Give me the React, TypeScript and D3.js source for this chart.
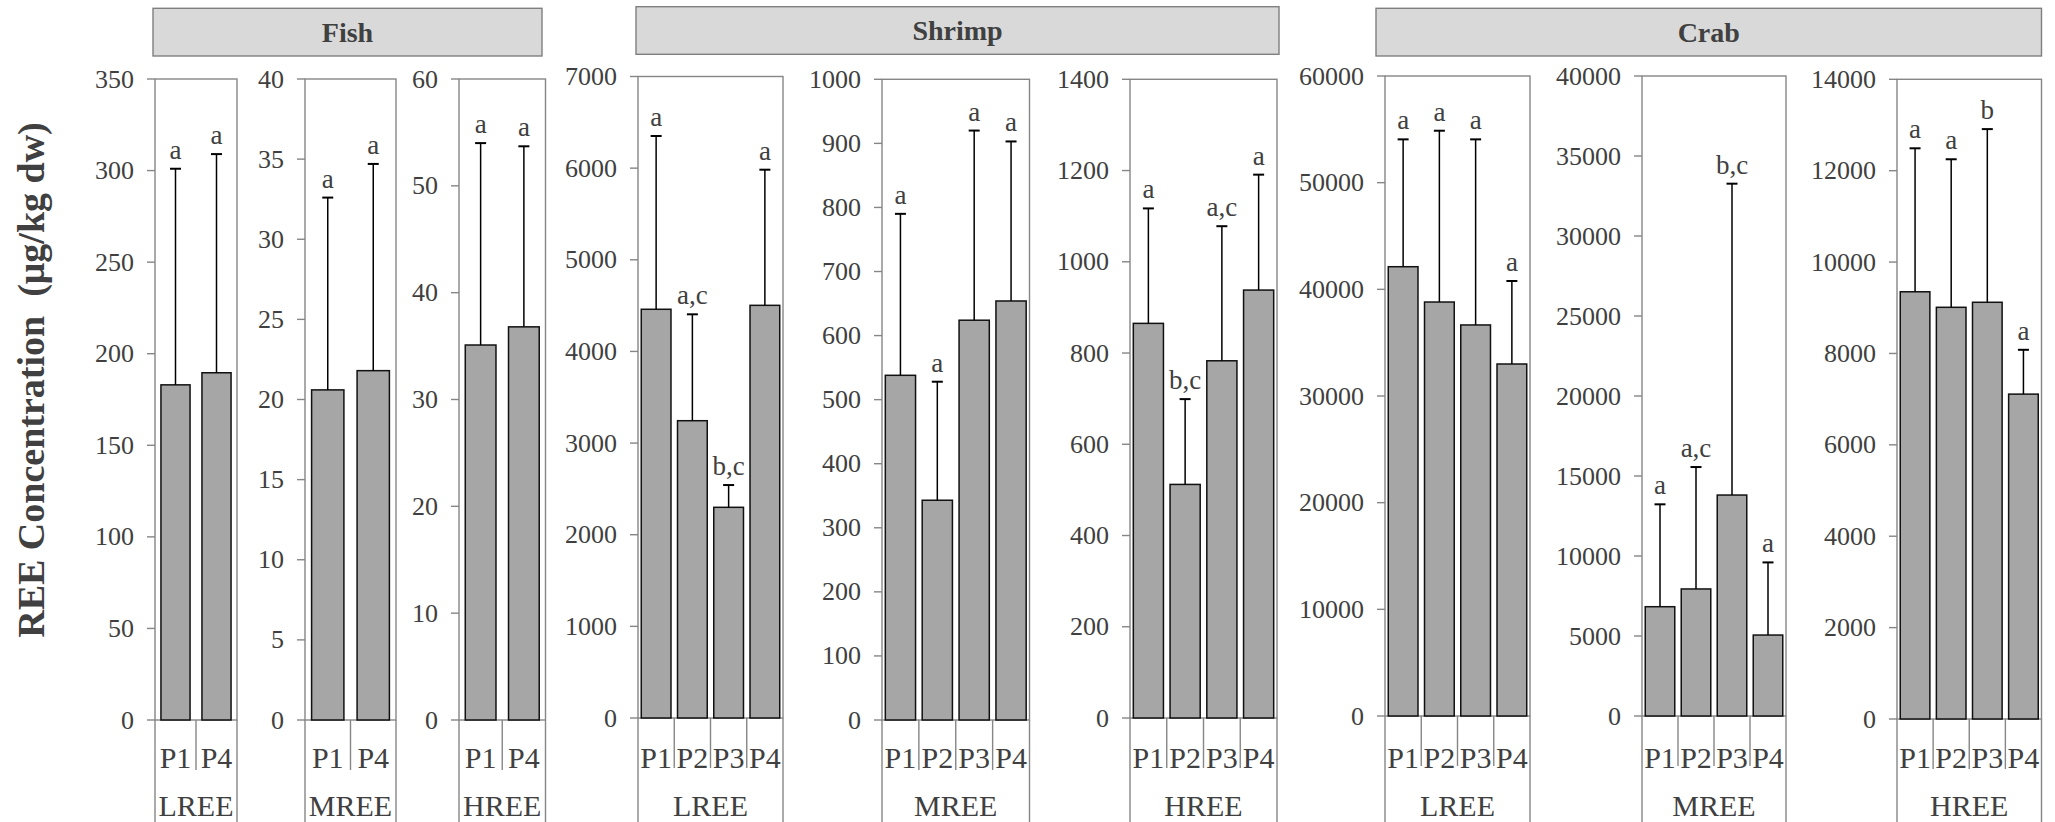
import React from "react";
import * as d3 from "d3";

// ---------- data ----------
const species = ["Fish", "Shrimp", "Crab"];
const groups = ["LREE", "MREE", "HREE"];
const fishSites = ["P1", "P4"];
const crustSites = ["P1", "P2", "P3", "P4"];

const fishMean = [[183, 189.6], [20.6, 21.8], [35.1, 36.8]];
const fishSd = [[118, 119.4], [12.0, 12.9], [18.9, 16.9]];
const fishLetters = [["a", "a"], ["a", "a"], ["a", "a"]];

const shrimpMean = [[4460, 3244, 2299, 4503], [538, 343, 624, 654], [865, 512, 783, 938]];
const shrimpSd = [[1891, 1161, 243, 1480], [252, 185, 296, 249], [252, 187, 295, 253]];
const shrimpLetters = [["a", "a,c", "b,c", "a"], ["a", "a", "a", "a"], ["a", "b,c", "a,c", "a"]];

const crabMean = [[42120, 38810, 36660, 33000], [6830, 7940, 13810, 5060], [9350, 9010, 9120, 7110]];
const crabSd = [[11940, 16060, 17400, 7780], [6400, 7620, 19460, 4540], [3140, 3240, 3790, 970]];
const crabLetters = [["a", "a", "a", "a"], ["a", "a,c", "b,c", "a"], ["a", "a", "b", "a"]];

const axisMax = [[350, 40, 60], [7000, 1000, 1400], [60000, 40000, 14000]];
const axisStep = [[50, 5, 10], [1000, 100, 200], [10000, 5000, 2000]];

const yTitle = "REE Concentration  (μg/kg dw)";

// ---------- layout ----------
const W = 2055;
const H = 822;
// [left, right, top, bottom] of each plot frame
const frames = [
  [[155, 237, 79, 720], [305, 396, 79, 720], [459, 545.5, 79, 720]],
  [[638, 783, 76.5, 718], [882, 1029.5, 79.3, 720], [1130, 1277, 79.3, 718]],
  [[1385, 1530, 76, 716], [1642, 1786, 76, 716], [1897, 2041.5, 79.3, 719]],
];
const headers = [
  [153, 542, 8.3, 56],
  [636, 1279, 6.7, 54.3],
  [1376, 2041.5, 8.3, 56],
];

const FONT = "'Liberation Serif', 'Times New Roman', serif";
const TXT = "#404040";
const FRAME = "#868686";

function Panel({ si, gi }: { si: number; gi: number }) {
  const sites = si === 0 ? fishSites : crustSites;
  const means = [fishMean, shrimpMean, crabMean][si][gi];
  const sds = [fishSd, shrimpSd, crabSd][si][gi];
  const letters = [fishLetters, shrimpLetters, crabLetters][si][gi];
  const [L, R, T, B] = frames[si][gi];
  const pad = sites.length === 2 ? 0.29 : 0.18;
  const x = d3.scaleBand<string>().domain(sites).range([L, R]).paddingInner(pad).paddingOuter(pad / 2);
  const y = d3.scaleLinear().domain([0, axisMax[si][gi]]).range([B, T]);
  const ticks = d3.range(0, axisMax[si][gi] + axisStep[si][gi] / 2, axisStep[si][gi]);
  const step = x.step();
  return (
    <g>
      <rect x={L} y={T} width={R - L} height={B - T} fill="#fff" stroke={FRAME} strokeWidth={1.4} />
      <line x1={L} x2={L} y1={B} y2={H} stroke={FRAME} strokeWidth={1.4} />
      <line x1={R} x2={R} y1={B} y2={H} stroke={FRAME} strokeWidth={1.4} />
      {sites.slice(1).map((s, i) => {
        const xx = L + step * (i + 1);
        return <line key={s} x1={xx} x2={xx} y1={B} y2={B + 50} stroke={FRAME} strokeWidth={1.4} />;
      })}
      {ticks.map((t) => (
        <g key={t}>
          <line x1={L - 8} x2={L} y1={y(t)} y2={y(t)} stroke={FRAME} strokeWidth={1.4} />
          <text x={L - 21} y={y(t)} textAnchor="end" dominantBaseline="central" fontFamily={FONT} fontSize={26} fill={TXT}>
            {t}
          </text>
        </g>
      ))}
      {sites.map((s, i) => {
        const bx = x(s)!;
        const bw = x.bandwidth();
        const top = y(means[i] + sds[i]);
        const cx = bx + bw / 2;
        return (
          <g key={s}>
            <rect x={bx} y={y(means[i])} width={bw} height={y(0) - y(means[i])} fill="#a6a6a6" stroke="#111" strokeWidth={1.5} />
            <line x1={cx} x2={cx} y1={y(means[i])} y2={top} stroke="#000" strokeWidth={1.5} />
            <line x1={cx - 5.5} x2={cx + 5.5} y1={top} y2={top} stroke="#000" strokeWidth={2} />
            <text x={cx} y={top - 10} textAnchor="middle" fontFamily={FONT} fontSize={27} fill={TXT}>
              {letters[i]}
            </text>
            <text x={L + step * (i + 0.5)} y={757} textAnchor="middle" dominantBaseline="central" fontFamily={FONT} fontSize={30} fill={TXT}>
              {s}
            </text>
          </g>
        );
      })}
      <text x={(L + R) / 2} y={805.5} textAnchor="middle" dominantBaseline="central" fontFamily={FONT} fontSize={30} fill={TXT}>
        {groups[gi]}
      </text>
    </g>
  );
}

export default function App() {
  return (
    <div style={{ position: "fixed", left: 0, top: 0, width: W, height: H, background: "#fff" }}>
      <svg width={W} height={H} viewBox={`0 0 ${W} ${H}`} style={{ display: "block" }}>
        <rect x={0} y={0} width={W} height={H} fill="#fff" />
        {species.map((sp, si) => {
          const [hL, hR, hT, hB] = headers[si];
          return (
            <g key={sp}>
              <rect x={hL} y={hT} width={hR - hL} height={hB - hT} fill="#d9d9d9" stroke="#7f7f7f" strokeWidth={1.4} />
              <text x={(hL + hR) / 2} y={(hT + hB) / 2} textAnchor="middle" dominantBaseline="central" fontFamily={FONT} fontWeight="bold" fontSize={28} fill={TXT}>
                {sp}
              </text>
              {groups.map((g, gi) => (
                <Panel key={g} si={si} gi={gi} />
              ))}
            </g>
          );
        })}
        <text
          transform={`translate(31,380) rotate(-90)`}
          textAnchor="middle"
          dominantBaseline="central"
          fontFamily={FONT}
          fontWeight="bold"
          fontSize={38}
          fill={TXT}
          xmlSpace="preserve"
          style={{ whiteSpace: "pre" }}
        >
          {yTitle}
        </text>
      </svg>
    </div>
  );
}
